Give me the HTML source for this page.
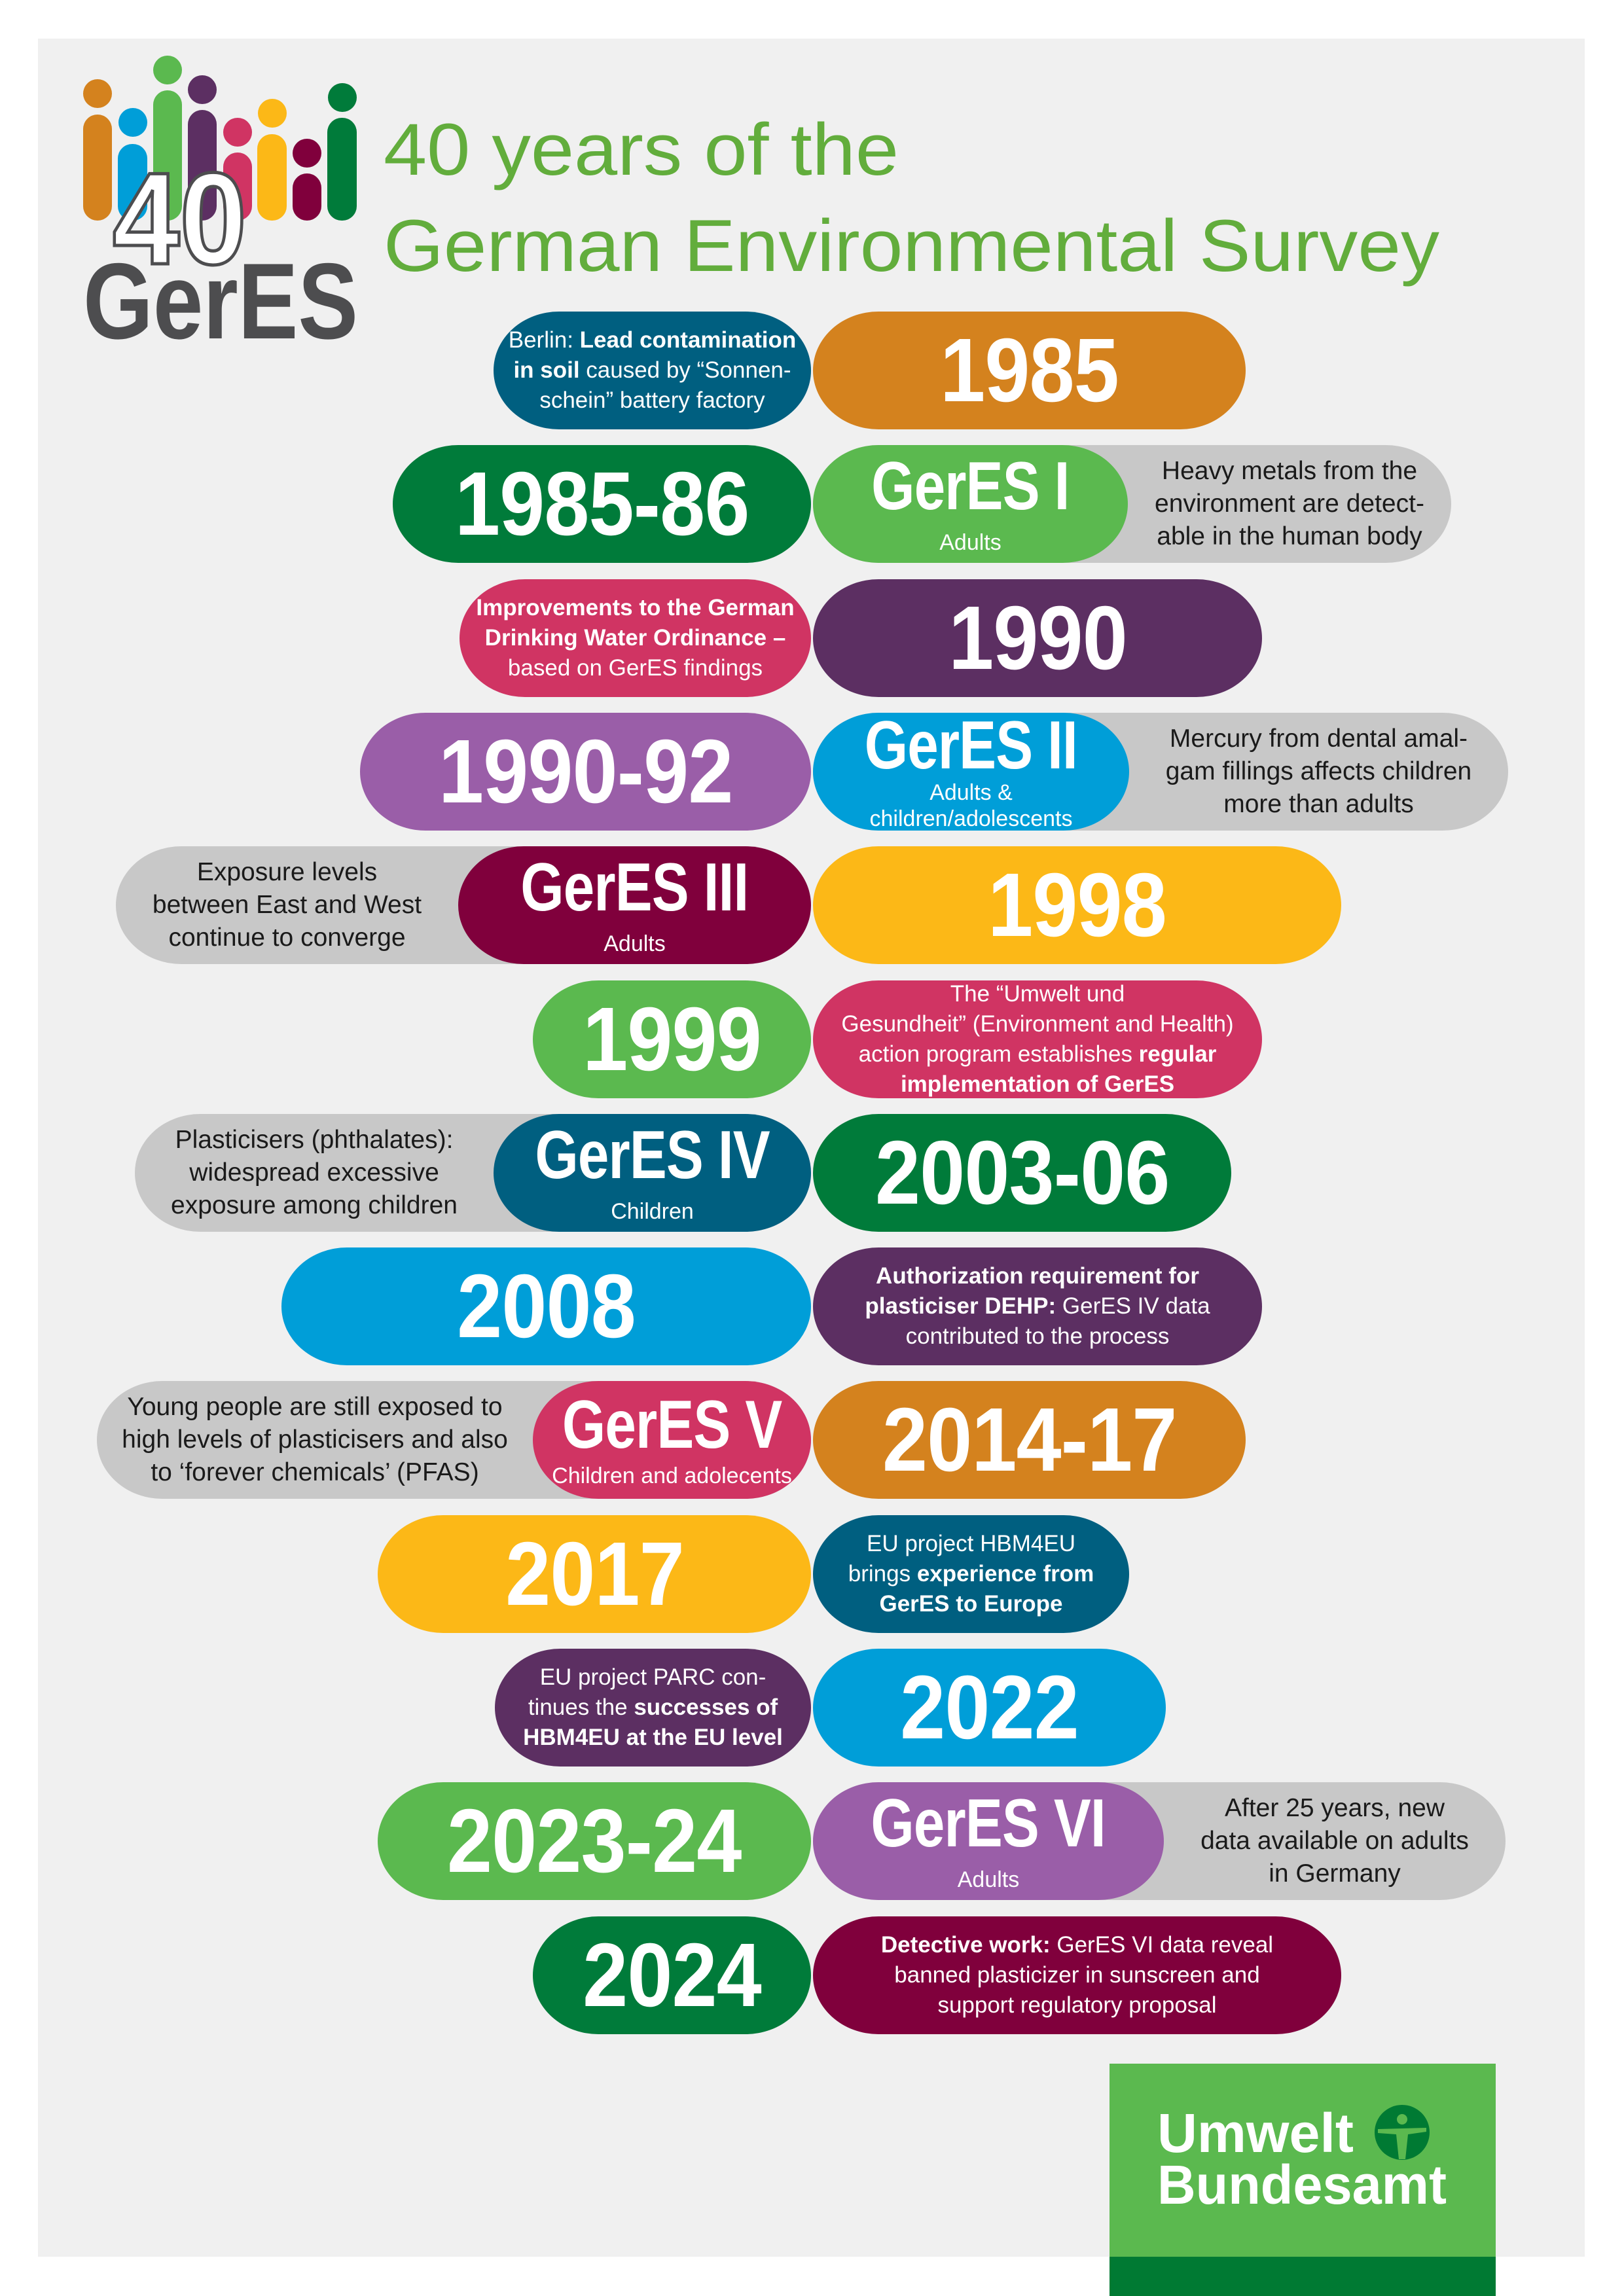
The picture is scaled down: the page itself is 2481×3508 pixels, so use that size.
<!DOCTYPE html>
<html><head><meta charset="utf-8"><style>
body{margin:0;width:2481px;height:3508px;background:#fff;position:relative;overflow:hidden;font-family:"Liberation Sans",sans-serif}
#panel{position:absolute;left:58px;top:59px;width:2363px;height:3389px;background:#f0f0f0}
.p{position:absolute;height:180px;border-radius:100px/90px;display:flex;flex-direction:column;align-items:center;justify-content:center;color:#fff;text-align:center;white-space:nowrap;box-sizing:border-box}
.y{font-weight:bold;font-size:138px;letter-spacing:-1px;line-height:1}
.y span,.l span{display:inline-block;transform:scaleX(.9)}
.l{font-weight:bold;font-size:104px;line-height:1;letter-spacing:-1px}
.l span{transform:scaleX(.82)}
.s{font-size:34px;line-height:40px}
.d{font-size:35px;line-height:46px}
.d b{font-weight:bold}
.g{background:#c8c8c8;color:#1a1a1a;font-size:39px;line-height:50px}
</style></head><body>
<div id="panel"></div>
<svg style="position:absolute;left:0;top:0" width="2481" height="600">
<g>
<circle cx="149" cy="143" r="22" fill="#d4821e"/><rect x="127" y="175" width="44" height="162" rx="22" fill="#d4821e"/>
<circle cx="203" cy="187" r="22" fill="#009ed8"/><rect x="180" y="220" width="45" height="117" rx="22" fill="#009ed8"/>
<circle cx="256" cy="107" r="22" fill="#5bb94f"/><rect x="234" y="138" width="44" height="199" rx="22" fill="#5bb94f"/>
<circle cx="309" cy="137" r="22" fill="#5c2f62"/><rect x="287" y="168" width="44" height="169" rx="22" fill="#5c2f62"/>
<circle cx="363" cy="202" r="22" fill="#d03463"/><rect x="341" y="233" width="44" height="104" rx="22" fill="#d03463"/>
<circle cx="416" cy="173" r="22" fill="#fcb817"/><rect x="393" y="205" width="45" height="132" rx="22" fill="#fcb817"/>
<circle cx="469" cy="234" r="22" fill="#80003c"/><rect x="447" y="265" width="44" height="72" rx="22" fill="#80003c"/>
<circle cx="523" cy="149" r="22" fill="#007b3a"/><rect x="500" y="180" width="45" height="157" rx="22" fill="#007b3a"/>
</g>
<text x="172" y="403" font-family="Liberation Sans" font-weight="bold" font-size="200" fill="#fff" stroke="#4d4d4f" stroke-width="5" textLength="205" lengthAdjust="spacingAndGlyphs">40</text>
<text x="127" y="517" font-family="Liberation Sans" font-weight="bold" font-size="165" fill="#4d4d4f" textLength="420" lengthAdjust="spacingAndGlyphs">GerES</text>
<text x="586" y="267" font-family="Liberation Sans" font-size="112" fill="#62ad3c" textLength="787" lengthAdjust="spacingAndGlyphs">40 years of the</text>
<text x="586" y="414" font-family="Liberation Sans" font-size="112" fill="#62ad3c" textLength="1613" lengthAdjust="spacingAndGlyphs">German Environmental Survey</text>
</svg>

<!-- row 1 -->
<div class="p d" style="left:754px;width:485px;top:476px;background:#005f80"><div>Berlin: <b>Lead contamination</b><br><b>in soil</b> caused by “Sonnen-<br>schein” battery factory</div></div>
<div class="p y" style="left:1242px;width:661px;top:476px;background:#d4821e"><span>1985</span></div>
<!-- row 2 -->
<div class="p y" style="left:600px;width:639px;top:680px;background:#007b3a"><span>1985-86</span></div>
<div class="p g d" style="left:1242px;width:975px;top:680px;padding-left:481px"><div>Heavy metals from the<br>environment are detect-<br>able in the human body</div></div>
<div class="p" style="left:1242px;width:481px;top:680px;background:#5bb94f"><div class="l"><span>GerES I</span></div><div class="s" style="margin-top:14px">Adults</div></div>
<!-- row 3 -->
<div class="p d" style="left:702px;width:537px;top:885px;background:#d03463"><div><b>Improvements to the German<br>Drinking Water Ordinance –</b><br>based on GerES findings</div></div>
<div class="p y" style="left:1242px;width:686px;top:885px;background:#5c2f62"><span>1990</span></div>
<!-- row 4 -->
<div class="p y" style="left:550px;width:689px;top:1089px;background:#9a5ea8"><span>1990-92</span></div>
<div class="p g d" style="left:1242px;width:1062px;top:1089px;padding-left:483px"><div>Mercury from dental amal-<br>gam fillings affects children<br>more than adults</div></div>
<div class="p" style="left:1242px;width:483px;top:1089px;background:#009ed8"><div class="l"><span>GerES II</span></div><div class="s">Adults &amp;<br>children/adolescents</div></div>
<!-- row 5 -->
<div class="p g d" style="left:177px;width:1062px;top:1293px;padding-right:539px"><div>Exposure levels<br>between East and West<br>continue to converge</div></div>
<div class="p" style="left:700px;width:539px;top:1293px;background:#80003c"><div class="l"><span>GerES III</span></div><div class="s" style="margin-top:14px">Adults</div></div>
<div class="p y" style="left:1242px;width:807px;top:1293px;background:#fcb817"><span>1998</span></div>
<!-- row 6 -->
<div class="p y" style="left:814px;width:425px;top:1498px;background:#5bb94f"><span>1999</span></div>
<div class="p d" style="left:1242px;width:686px;top:1498px;background:#d03463"><div>The “Umwelt und<br>Gesundheit” (Environment and Health)<br>action program establishes <b>regular</b><br><b>implementation of GerES</b></div></div>
<!-- row 7 -->
<div class="p g d" style="left:206px;width:1033px;top:1702px;padding-right:485px"><div>Plasticisers (phthalates):<br>widespread excessive<br>exposure among children</div></div>
<div class="p" style="left:754px;width:485px;top:1702px;background:#005f80"><div class="l"><span>GerES IV</span></div><div class="s" style="margin-top:14px">Children</div></div>
<div class="p y" style="left:1242px;width:639px;top:1702px;background:#007b3a"><span>2003-06</span></div>
<!-- row 8 -->
<div class="p y" style="left:430px;width:809px;top:1906px;background:#009ed8"><span>2008</span></div>
<div class="p d" style="left:1242px;width:686px;top:1906px;background:#5c2f62"><div><b>Authorization requirement for</b><br><b>plasticiser DEHP:</b> GerES IV data<br>contributed to the process</div></div>
<!-- row 9 -->
<div class="p g d" style="left:148px;width:1091px;top:2110px;padding-right:425px"><div>Young people are still exposed to<br>high levels of plasticisers and also<br>to ‘forever chemicals’ (PFAS)</div></div>
<div class="p" style="left:814px;width:425px;top:2110px;background:#d03463"><div class="l"><span>GerES V</span></div><div class="s" style="margin-top:6px">Children and adolecents</div></div>
<div class="p y" style="left:1242px;width:661px;top:2110px;background:#d4821e"><span>2014-17</span></div>
<!-- row 10 -->
<div class="p y" style="left:577px;width:662px;top:2315px;background:#fcb817"><span>2017</span></div>
<div class="p d" style="left:1242px;width:483px;top:2315px;background:#005f80"><div>EU project HBM4EU<br>brings <b>experience from</b><br><b>GerES to Europe</b></div></div>
<!-- row 11 -->
<div class="p d" style="left:756px;width:483px;top:2519px;background:#5c2f62"><div>EU project PARC con-<br>tinues the <b>successes of</b><br><b>HBM4EU at the EU level</b></div></div>
<div class="p y" style="left:1242px;width:539px;top:2519px;background:#009ed8"><span>2022</span></div>
<!-- row 12 -->
<div class="p y" style="left:577px;width:662px;top:2723px;background:#5bb94f"><span>2023-24</span></div>
<div class="p g d" style="left:1242px;width:1058px;top:2723px;padding-left:536px"><div>After 25 years, new<br>data available on adults<br>in Germany</div></div>
<div class="p" style="left:1242px;width:536px;top:2723px;background:#9a5ea8"><div class="l"><span>GerES VI</span></div><div class="s" style="margin-top:14px">Adults</div></div>
<!-- row 13 -->
<div class="p y" style="left:814px;width:425px;top:2928px;background:#007b3a"><span>2024</span></div>
<div class="p d" style="left:1242px;width:807px;top:2928px;background:#80003c"><div><b>Detective work:</b> GerES VI data reveal<br>banned plasticizer in sunscreen and<br>support regulatory proposal</div></div>

<!-- UBA logo -->
<div style="position:absolute;left:1695px;top:3153px;width:590px;height:355px;background:#5bb94f"></div>
<div style="position:absolute;left:1695px;top:3448px;width:590px;height:60px;background:#007a33"></div>
<svg style="position:absolute;left:1695px;top:3153px" width="590" height="295">
<text x="73" y="135" font-family="Liberation Sans" font-weight="bold" font-size="84" fill="#fff" textLength="300" lengthAdjust="spacingAndGlyphs">Umwelt</text>
<text x="73" y="214" font-family="Liberation Sans" font-weight="bold" font-size="84" fill="#fff" textLength="442" lengthAdjust="spacingAndGlyphs">Bundesamt</text>
<ellipse cx="447" cy="105" rx="42" ry="42" fill="#007a33"/>
<circle cx="447" cy="85" r="8" fill="#5bb94f"/>
<path d="M410 100 L484 98 L484 104 L456 108 L452 146 L442 146 L438 108 L410 106 Z" fill="#5bb94f"/>
</svg>
</body></html>
